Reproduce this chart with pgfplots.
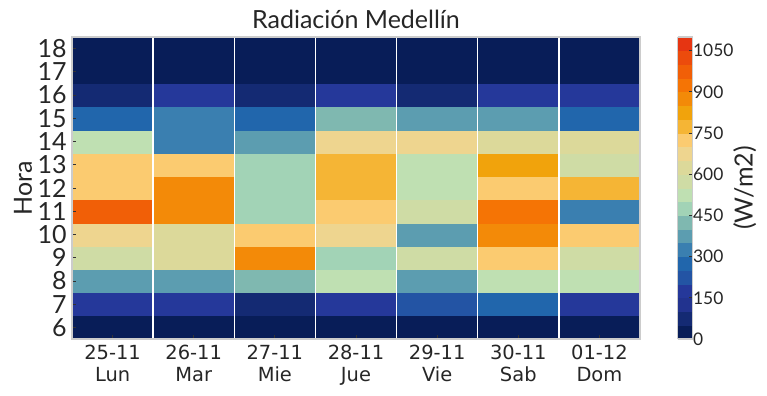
\documentclass[border=0pt]{standalone}
\usepackage{fontspec}
\setmainfont{Lato}
\newfontfamily\dejavu{DejaVu Sans}
\usepackage{pgfplots}
\pgfplotsset{compat=1.18}
\definecolor{txt}{HTML}{262626}
\definecolor{framec}{HTML}{CCCCCC}
\definecolor{tickc}{HTML}{333333}
\begin{document}
\begin{tikzpicture}
\useasboundingbox (-51.84pt,-40.32pt) rectangle (500.4pt,244.08pt);
\begin{axis}[
  at={(0,0)}, anchor=south west,
  scale only axis, width=408.96pt, height=217.44pt,
  xmin=-0.5, xmax=6.5, ymin=5.5, ymax=18.5,
  enlargelimits=false,
  axis on top,
  axis line style={draw=framec, line width=0.9pt},
  tick pos=left, tick align=inside,
  major tick length=3pt,
  tick style={tickc, line width=0.6pt},
  xtick={0,...,6},
  xticklabels={{25-11\\Lun},{26-11\\Mar},{27-11\\Mie},{28-11\\Jue},{29-11\\Vie},{30-11\\Sab},{01-12\\Dom}},
  xticklabel style={font=\dejavu\fontsize{14}{15.5}\selectfont, text=txt, align=center, anchor=north, inner sep=0pt, yshift=-4.3pt},
  minor xtick={0.5,1.5,...,5.5},
  minor tick length=0pt,
  xminorgrids, minor grid style={white, line width=1pt},
  ytick={6,...,18},
  yticklabel style={font=\fontsize{18}{19}\selectfont, text=txt, anchor=east, inner sep=0pt, xshift=-3.6pt},
  /pgf/number format/assume math mode=true,
  ylabel={Hora},
  ylabel style={font=\fontsize{18}{20}\selectfont, text=txt, at={(axis description cs:0,0.5)}, anchor=base, yshift=28.8pt},
  title={Radiación Medellín},
  title style={font=\fontsize{18}{20}\selectfont, text=txt, at={(axis description cs:0.5,1)}, anchor=base, yshift=0pt},
  colormap={rad}{rgb255=(8,29,88) rgb255=(20,42,115) rgb255=(34,51,143) rgb255=(37,56,154) rgb255=(35,84,164) rgb255=(33,102,172) rgb255=(58,127,176) rgb255=(92,157,176) rgb255=(127,184,176) rgb255=(162,211,182) rgb255=(191,224,178) rgb255=(207,220,165) rgb255=(220,217,154) rgb255=(238,213,143) rgb255=(251,203,112) rgb255=(245,181,53) rgb255=(241,163,12) rgb255=(243,138,8) rgb255=(245,116,5) rgb255=(241,95,7) rgb255=(236,75,12) rgb255=(230,53,18)},
  colormap access=piecewise constant,
  point meta min=0, point meta max=1100,
  colorbar,
  colorbar style={
    at={(parent axis.north east)}, anchor=north west, xshift=18.72pt,
    width=10.8pt,
    axis line style={draw=framec, line width=0.9pt},
    ytick={0,150,...,1050},
    ytick pos=right, tick align=inside, major tick length=3pt,
    tick style={tickc, line width=0.6pt},
    yticklabel style={font=\fontsize{12.5}{14}\selectfont, text=txt, anchor=west, inner sep=0pt, xshift=0pt},
    /pgf/number format/assume math mode=true,
    /pgf/number format/1000 sep={},
    ylabel={(W/m2)},
    ylabel style={font=\fontsize{18}{20}\selectfont, text=txt, at={(axis description cs:1,0.5)}, anchor=base, yshift=-43pt},
  },
]
\addplot[matrix plot*, mesh/cols=7, point meta=explicit] table[x=x, y=y, meta=v] {
x y v
0 6 25
1 6 25
2 6 25
3 6 25
4 6 25
5 6 25
6 6 25
0 7 175
1 7 175
2 7 75
3 7 175
4 7 225
5 7 275
6 7 175
0 8 375
1 8 375
2 8 425
3 8 525
4 8 375
5 8 525
6 8 525
0 9 575
1 9 625
2 9 875
3 9 475
4 9 575
5 9 725
6 9 575
0 10 675
1 10 625
2 10 725
3 10 675
4 10 375
5 10 875
6 10 725
0 11 975
1 11 875
2 11 475
3 11 725
4 11 575
5 11 925
6 11 325
0 12 725
1 12 875
2 12 475
3 12 775
4 12 525
5 12 725
6 12 775
0 13 725
1 13 725
2 13 475
3 13 775
4 13 525
5 13 825
6 13 575
0 14 525
1 14 325
2 14 375
3 14 675
4 14 675
5 14 625
6 14 625
0 15 275
1 15 325
2 15 275
3 15 425
4 15 375
5 15 375
6 15 275
0 16 75
1 16 175
2 16 75
3 16 175
4 16 75
5 16 175
6 16 175
0 17 25
1 17 25
2 17 25
3 17 25
4 17 25
5 17 25
6 17 25
0 18 25
1 18 25
2 18 25
3 18 25
4 18 25
5 18 25
6 18 25
};
\end{axis}
\end{tikzpicture}
\end{document}
